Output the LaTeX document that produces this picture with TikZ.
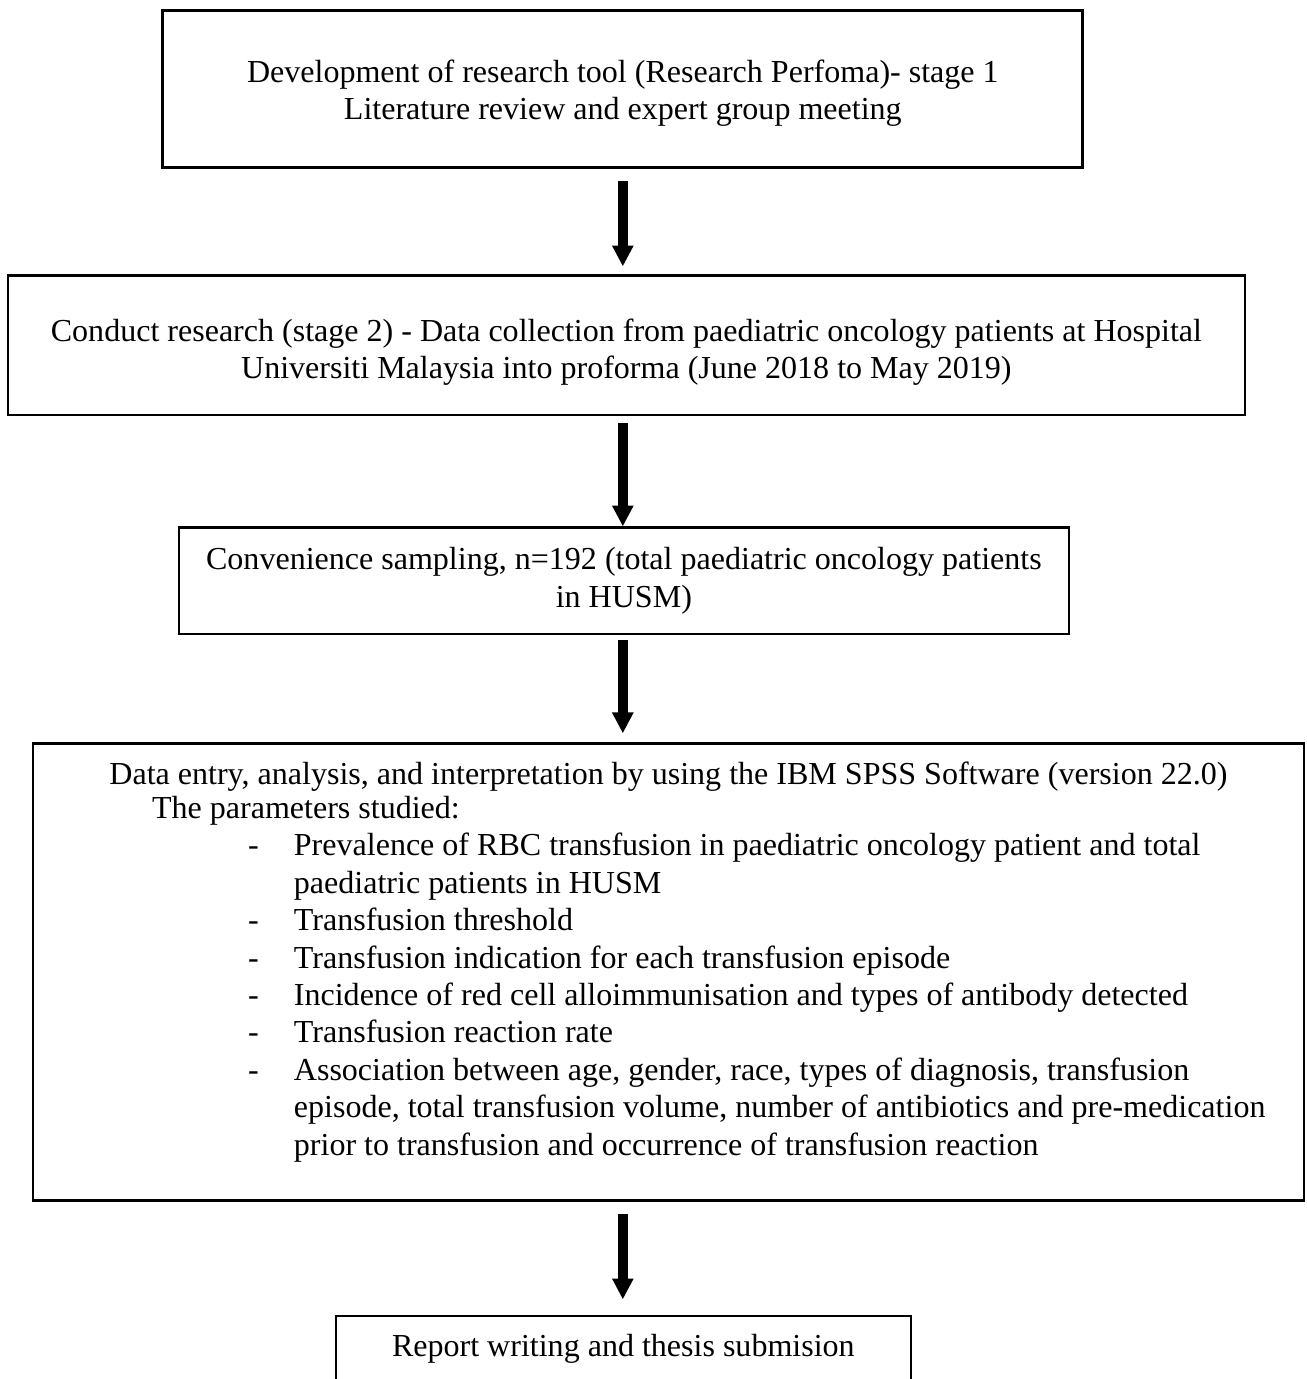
\documentclass[tikz,border=0pt]{standalone}
\usepackage{fontspec}
\setmainfont{Liberation Serif}
\usetikzlibrary{positioning}
\usetikzlibrary{arrows.meta}
\tikzstyle{stage}=[draw=black, line width=0.75pt, align=center, inner sep=0pt, font=\fontsize{11.65}{13.6}\selectfont]
\tikzstyle{first}=[line width=1.1pt]
\tikzstyle{link}=[-{Triangle[width=7.3pt,length=7.6pt]}, line width=3.6pt]

\begin{document}
\begin{tikzpicture}[node distance = 39pt]
    \useasboundingbox (0,0) rectangle (475.3pt,-501.5pt);

    \node[stage, first, minimum width=334.5pt, minimum height=57.1pt] (tool) at (226.5pt,-32.2pt)
        {\rule{0pt}{11.7pt}Development of research tool (Research Perfoma)- stage 1\\Literature review and expert group meeting};
    \node[stage, minimum width=449.8pt, minimum height=50.9pt] (conduct) [below = 38.5pt of tool, xshift=1.3pt]
        {\rule{0pt}{13.1pt}Conduct research (stage 2) - Data collection from paediatric oncology patients at Hospital\\Universiti Malaysia into proforma (June 2018 to May 2019)};
    \node[stage, minimum width=323.6pt, minimum height=38.9pt] (sampling) [below = 40pt of conduct, xshift=-0.9pt]
        {Convenience sampling, n=192 (total paediatric oncology patients\\in HUSM)};
    \node[stage, align=flush left, text width=462.2pt, minimum height=166.2pt] (analysis) [below = 38.9pt of sampling, xshift=16.2pt]
        {\makebox[\linewidth]{Data entry, analysis, and interpretation by using the IBM SPSS Software (version 22.0)}\\[-1.2pt]
         \hspace*{43.3pt}The parameters studied:\\
         \hspace*{78.2pt}\makebox[16.7pt][l]{-}Prevalence of RBC transfusion in paediatric oncology patient and total\\
         \hspace*{94.9pt}paediatric patients in HUSM\\
         \hspace*{78.2pt}\makebox[16.7pt][l]{-}Transfusion threshold\\
         \hspace*{78.2pt}\makebox[16.7pt][l]{-}Transfusion indication for each transfusion episode\\
         \hspace*{78.2pt}\makebox[16.7pt][l]{-}Incidence of red cell alloimmunisation and types of antibody detected\\
         \hspace*{78.2pt}\makebox[16.7pt][l]{-}Transfusion reaction rate\\
         \hspace*{78.2pt}\makebox[16.7pt][l]{-}Association between age, gender, race, types of diagnosis, transfusion\\
         \hspace*{94.9pt}episode, total transfusion volume, number of antibiotics and pre-medication\\
         \hspace*{94.9pt}prior to transfusion and occurrence of transfusion reaction\rule[-9.8pt]{0pt}{9.8pt}};
    \node[stage, minimum width=209.1pt, minimum height=29pt] (report) [below = 41.1pt of analysis, xshift=-16.4pt]
        {Report writing and thesis submision\rule[-7.6pt]{0pt}{7.6pt}};

    % arrows between the stages
    \draw[link, shorten <=4.7pt, shorten >=2.9pt] (tool.south) to (conduct.north -| tool);
    \draw[link, shorten <=2.2pt] (conduct.south -| tool) to (sampling.north -| tool);
    \draw[link, shorten <=1.8pt, shorten >=3.3pt] (sampling.south -| tool) to (analysis.north -| tool);
    \draw[link, shorten <=4.7pt, shorten >=5.5pt] (analysis.south -| tool) to (report.north -| tool);
  \end{tikzpicture}
\end{document}
